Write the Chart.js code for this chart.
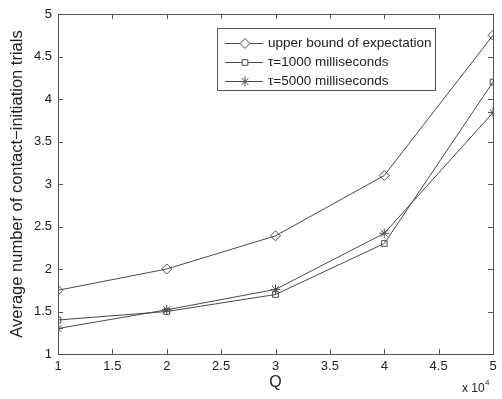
<!DOCTYPE html>
<html><head><meta charset="utf-8">
<script src="https://cdn.jsdelivr.net/npm/chart.js@4.4.1/dist/chart.umd.min.js"></script>
<style>html,body{margin:0;padding:0;background:#fff}#wrap{width:502px;height:399px}</style>
</head><body><div id="wrap"><canvas id="c" width="502" height="399"></canvas></div>
<script>
const qValues = [1, 2, 3, 4, 5];
const upperBound = [1.75, 2.0, 2.39, 3.1, 4.75];
const tau1000 = [1.4, 1.5, 1.7, 2.3, 4.2];
const tau5000 = [1.3, 1.52, 1.76, 2.42, 3.84];
const seriesNames = ['upper bound of expectation', '\u03c4=1000 milliseconds', '\u03c4=5000 milliseconds'];
const xTicks = [1, 1.5, 2, 2.5, 3, 3.5, 4, 4.5, 5];
const yTicks = [1, 1.5, 2, 2.5, 3, 3.5, 4, 4.5, 5];

const FONT = 'Liberation Sans, Arial, Helvetica, sans-serif';
const LINE = '#4a4a4a';
const styles = ['rectRot', 'rect', 'star'];
const radii = [5, 4, 5];
const pts = arr => qValues.map((q, i) => ({x: q, y: arr[i]}));
const all = [upperBound, tau1000, tau5000];

const frame = {
  id: 'frame',
  afterDatasetsDraw(chart) {
    const {ctx, chartArea: a, scales: {x, y}} = chart;
    ctx.save();
    ctx.strokeStyle = '#555';
    ctx.lineWidth = 1;
    ctx.strokeRect(a.left + 0.5, a.top + 0.5, a.right - a.left, a.bottom - a.top);
    ctx.beginPath();
    xTicks.forEach(v => {
      const p = Math.round(x.getPixelForValue(v)) + 0.5;
      ctx.moveTo(p, a.bottom); ctx.lineTo(p, a.bottom - 5);
      ctx.moveTo(p, a.top); ctx.lineTo(p, a.top + 5);
    });
    yTicks.forEach(v => {
      const p = Math.round(y.getPixelForValue(v)) + 0.5;
      ctx.moveTo(a.left, p); ctx.lineTo(a.left + 5, p);
      ctx.moveTo(a.right, p); ctx.lineTo(a.right - 5, p);
    });
    ctx.stroke();
    // exponent label
    ctx.fillStyle = '#222';
    ctx.font = '12px ' + FONT;
    ctx.textBaseline = 'alphabetic';
    ctx.fillText('x 10', 462, 392);
    ctx.font = '8px ' + FONT;
    ctx.fillText('4', 485, 385);
    // legend
    const L = 217, T = 28, R = 435, B = 90;
    ctx.fillStyle = '#fff';
    ctx.fillRect(L, T, R - L, B - T);
    ctx.strokeStyle = '#555';
    ctx.strokeRect(L + 0.5, T + 0.5, R - L, B - T);
    const rows = [43, 62, 81];
    chart.data.datasets.forEach((ds, i) => {
      const yy = rows[i] + 0.5;
      ctx.strokeStyle = LINE;
      ctx.lineWidth = 1;
      ctx.beginPath(); ctx.moveTo(225, yy); ctx.lineTo(263, yy); ctx.stroke();
      ctx.fillStyle = '#fff';
      Chart.helpers.drawPoint(ctx, {pointStyle: styles[i], radius: radii[i], borderWidth: 1}, 245, yy);
      ctx.fillStyle = '#222';
      ctx.font = '13.5px ' + FONT;
      ctx.textBaseline = 'middle';
      ctx.fillText(ds.label, 268, yy);
    });
    ctx.restore();
  }
};

new Chart(document.getElementById('c'), {
  type: 'line',
  data: {
    datasets: all.map((arr, i) => ({
      label: seriesNames[i],
      data: pts(arr),
      borderColor: LINE,
      borderWidth: 1,
      backgroundColor: '#fff',
      pointStyle: styles[i],
      pointRadius: radii[i],
      pointBorderColor: LINE,
      pointBackgroundColor: 'rgba(255,255,255,0)',
      pointBorderWidth: 1,
      tension: 0,
      fill: false
    }))
  },
  options: {
    responsive: false,
    animation: false,
    layout: {padding: {top: 14, right: 9, left: 0, bottom: 0}},
    plugins: {legend: {display: false}, tooltip: {enabled: false}},
    scales: {
      x: {
        type: 'linear', min: 1, max: 5,
        afterBuildTicks: s => { s.ticks = xTicks.map(v => ({value: v})); },
        afterFit: s => { s.height = 45; },
        grid: {display: false, drawTicks: false},
        border: {display: false},
        ticks: {color: '#222', font: {family: FONT, size: 13}, padding: 5, maxRotation: 0,
                callback: v => String(v)},
        title: {display: true, text: 'Q', color: '#222', font: {family: FONT, size: 16}, padding: {top: 0, bottom: 7}}
      },
      y: {
        type: 'linear', min: 1, max: 5,
        afterBuildTicks: s => { s.ticks = yTicks.map(v => ({value: v})); },
        afterFit: s => { s.width = 58; },
        grid: {display: false, drawTicks: false},
        border: {display: false},
        ticks: {color: '#222', font: {family: FONT, size: 13}, padding: 6, callback: v => String(v)},
        title: {display: true, text: 'Average number of contact\u2212initiation trials', color: '#222', font: {family: FONT, size: 16.5}, padding: {top: 8, bottom: 0}}
      }
    }
  },
  plugins: [frame]
});
</script></body></html>
